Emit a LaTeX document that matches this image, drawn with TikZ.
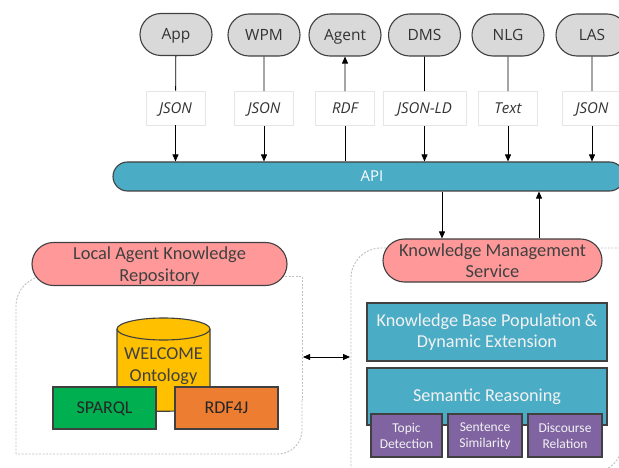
\documentclass[tikz,border=0pt]{standalone}
\usepackage{fontspec}
\setmainfont{Carlito}
\newfontfamily\uifont{Open Sans}
\usetikzlibrary{arrows.meta,shapes.misc}

\definecolor{pillgray}{HTML}{D9D9D9}
\definecolor{edgedark}{HTML}{404040}
\definecolor{apiteal}{HTML}{4BACC6}
\definecolor{svcpink}{HTML}{FF9999}
\definecolor{dbyellow}{HTML}{FFC000}
\definecolor{qgreen}{HTML}{00B050}
\definecolor{rorange}{HTML}{ED7D31}
\definecolor{subpurple}{HTML}{8064A2}
\definecolor{dashgray}{HTML}{C0C0C0}
\definecolor{fmtborder}{HTML}{E6E6E6}
\definecolor{txtdark}{HTML}{333333}

\tikzset{
  client/.style={rounded rectangle, draw=edgedark, line width=1.1pt, fill=pillgray,
    minimum width=72pt, minimum height=42pt, inner sep=0pt,
    text height=11pt, text depth=0pt,
    font=\uifont\fontsize{15.5}{18}\selectfont, text=txtdark},
  fmt/.style={rectangle, draw=fmtborder, line width=0.6pt, fill=white,
    minimum width=59pt, minimum height=34pt, inner sep=0pt,
    text height=10.5pt, text depth=0pt,
    font=\uifont\itshape\fontsize{15}{18}\selectfont, text=txtdark},
  svc/.style={rounded rectangle, draw=edgedark, line width=1.1pt, fill=svcpink,
    minimum height=43pt, inner sep=0pt, align=center, text depth=0pt,
    font=\fontsize{18.4}{21.5}\selectfont, text=edgedark},
  tealbox/.style={rectangle, draw=edgedark, line width=1.1pt, fill=apiteal,
    minimum width=240pt, inner sep=0pt, align=center,
    font=\fontsize{18.2}{21.5}\selectfont, text=white!95!black},
  subbox/.style={rectangle, draw=edgedark, line width=1.1pt, fill=subpurple,
    minimum height=43pt, inner sep=0pt, align=center, text depth=0pt,
    font=\fontsize{13.5}{16}\selectfont, text=white!95!black},
  toolbox/.style={rectangle, draw=edgedark, line width=1.1pt,
    minimum width=103pt, minimum height=42pt, inner sep=0pt,
    text height=11.6pt, text depth=0pt,
    font=\fontsize{18}{21.5}\selectfont, text=black!85},
  container/.style={draw=dashgray, line width=0.9pt, dash pattern=on 2pt off 1.5pt},
  flow/.style={draw=black, line width=0.8pt},
  tip/.tip={Triangle[length=7pt,width=6pt]},
}

\begin{document}
\begin{tikzpicture}[x=1pt,y=-1pt]
\clip (0,0) rectangle (619,468);
\fill[white] (0,0) rectangle (619,468);

% dashed containers: local repository (left) and knowledge service (right)
\draw[container, rounded corners=30pt] (16,454) -- (16,276) -- (250,276);
\draw[container] (250,276) -- (302,276) -- (302,400);
\draw[container, rounded corners=24pt] (302,400) -- (302,454) -- (16,454);
\draw[container, rounded corners=30pt] (351,480) -- (351,248) -- (640,248);
\draw[container, rounded corners=28pt] (622,240) -- (622,472) -- (500,472);

% client components
\node[client] (app)   at (176,34.5) {App};
\node[client] (wpm)   at (264,35)   {WPM};
\node[client] (agent) at (345,35)   {Agent};
\node[client] (dms)   at (424.5,35) {DMS};
\node[client] (nlg)   at (508,35)   {NLG};
\node[client] (las)   at (592,35)   {LAS};

% API bar
\node[rounded rectangle, draw=edgedark, line width=1.1pt, fill=apiteal,
  minimum width=511pt, minimum height=29pt, inner sep=0pt,
  text height=10.5pt, text depth=0pt,
  font=\uifont\fontsize{15}{18}\selectfont, text=white] (api) at (368.5,176.5) {\hspace*{7pt}API};

% exchange formats
\node[fmt] (fapp)   at (175.5,108) {JSON};
\node[fmt] (fwpm)   at (264,108.5) {JSON};
\node[fmt] (fagent) at (345,108.5) {RDF};
\node[fmt, minimum width=83pt] (fdms) at (424.5,108.5) {JSON-LD};
\node[fmt] (fnlg)   at (508,108.5) {Text};
\node[fmt] (flas)   at (592,108.5) {JSON};

% connectors between clients and the API
\draw[flow] (app) -- (fapp);
\draw[flow, -tip] (fapp) -- (fapp |- api.north);
\draw[flow] (wpm) -- (fwpm);
\draw[flow, -tip] (fwpm) -- (fwpm |- api.north);
\draw[flow, tip-] (agent) -- (fagent);
\draw[flow] (fagent) -- (fagent |- api.north);
\draw[flow] (dms) -- (fdms);
\draw[flow, -tip] (fdms) -- (fdms |- api.north);
\draw[flow] (nlg) -- (fnlg);
\draw[flow, -tip] (fnlg) -- (fnlg |- api.north);
\draw[flow] (las) -- (flas);
\draw[flow, -tip] (flas) -- (flas |- api.north);

% service headers
\node[svc, minimum width=255pt] (lakr) at (159.5,264) {Local Agent Knowledge\\Repository};
\node[svc, minimum width=219pt] (kms) at (492.5,260.5) {Knowledge Management\\Service};

% API <-> knowledge management service
\coordinate (kdown) at (442,0);
\coordinate (kup) at (539,0);
\draw[flow, -tip] (api.south -| kdown) -- (kms.north -| kdown);
\draw[flow, -tip] (kms.north -| kup) -- (api.south -| kup);

% ontology store
\path[draw=edgedark, line width=1.1pt, fill=dbyellow]
  (117,329) -- (117,406) .. controls (117,413) and (210,413) .. (210,406) -- (210,329);
\path[draw=edgedark, line width=1.1pt, fill=dbyellow] (163.5,329) ellipse [x radius=46.5, y radius=11];
\node[align=center, font=\fontsize{18.2}{22}\selectfont, text=edgedark] (onto) at (163.5,366.5) {WELCOME\\Ontology};

\node[toolbox, fill=qgreen]  (sparql) at (104.5,408) {SPARQL};
\node[toolbox, fill=rorange] (rdf4j)  at (226.5,408) {RDF4J};

% knowledge management modules
\node[tealbox, minimum height=58pt] (kbp) at (487,332) {Knowledge Base Population \&\\Dynamic Extension};
\node[tealbox, minimum height=57pt] (sr) at (487,396.5) {Semantic Reasoning};
\node[subbox, minimum width=71pt] (topic) at (406.5,435.5) {Topic\\Detection};
\node[subbox, minimum width=74pt] (sent)  at (485,435.5) {Sentence\\\smash{Similarity}};
\node[subbox, minimum width=74pt] (disc)  at (565,435.5) {Discourse\\Relation};

% repository <-> service
\coordinate (repoedge) at (303,357);
\coordinate (svcedge) at (350,357);
\draw[flow, tip-tip] (repoedge) -- (svcedge);
\end{tikzpicture}
\end{document}
